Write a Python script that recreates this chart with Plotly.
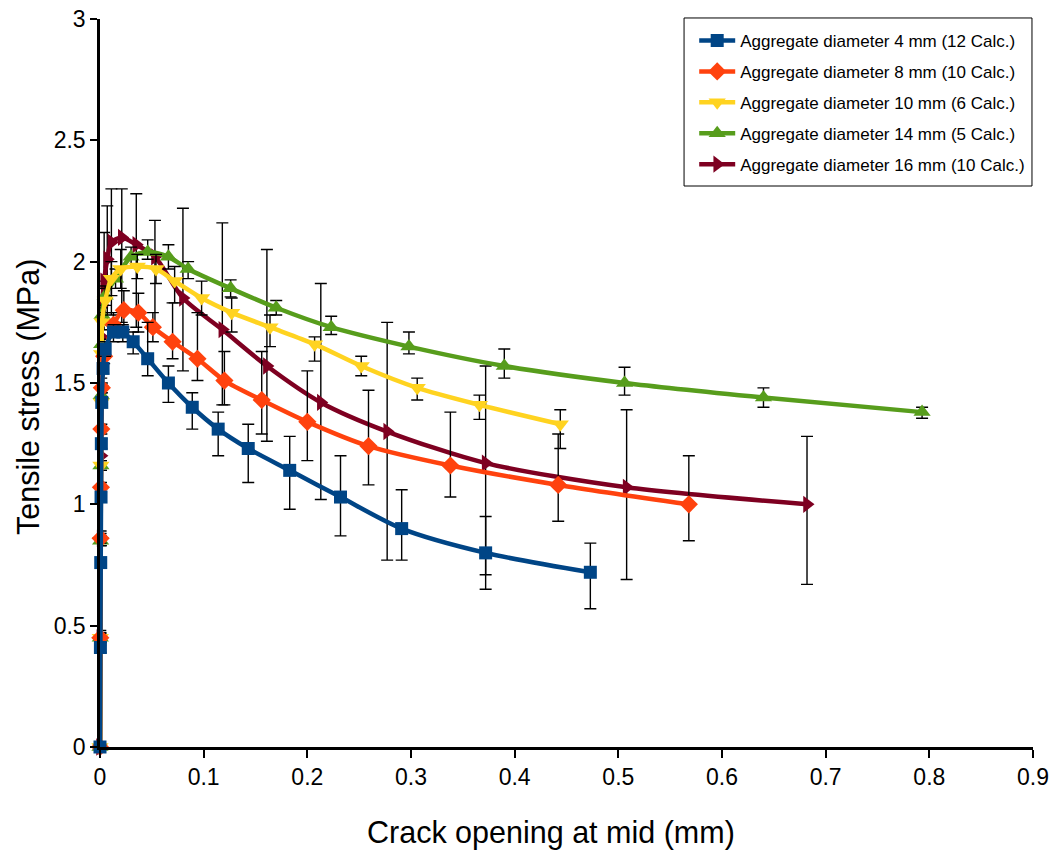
import plotly.graph_objects as go

# Crack opening at mid (mm) and tensile stress (MPa) per aggregate size
x_4mm = [0, 0.0004, 0.0007, 0.001, 0.0013, 0.0017, 0.003, 0.005, 0.013, 0.022, 0.032,
         0.046, 0.066, 0.089, 0.114, 0.143, 0.183, 0.232, 0.291, 0.372, 0.473]
y_4mm = [0, 0.41, 0.76, 1.03, 1.25, 1.42, 1.56, 1.64, 1.71, 1.71, 1.67,
         1.60, 1.50, 1.40, 1.31, 1.23, 1.14, 1.03, 0.90, 0.80, 0.72]
up_4mm = [0, 0.02, 0.02, 0.02, 0.02, 0.02, 0.02, 0.03, 0.03, 0.03, 0.04,
          0.15, 0.07, 0.06, 0.07, 0.10, 0.14, 0.17, 0.16, 0.15, 0.12]
dn_4mm = [0, 0.02, 0.02, 0.02, 0.02, 0.02, 0.02, 0.03, 0.04, 0.04, 0.05,
          0.07, 0.08, 0.09, 0.11, 0.14, 0.16, 0.16, 0.13, 0.15, 0.15]

x_8mm = [0, 0.0003, 0.0006, 0.0009, 0.0013, 0.0018, 0.004, 0.013, 0.023, 0.037,
         0.051, 0.070, 0.094, 0.120, 0.156, 0.200, 0.259, 0.338, 0.442, 0.568]
y_8mm = [0, 0.45, 0.86, 1.07, 1.31, 1.48, 1.61, 1.74, 1.80, 1.79,
         1.73, 1.67, 1.60, 1.51, 1.43, 1.34, 1.24, 1.16, 1.08, 1.00]
up_8mm = [0, 0.02, 0.02, 0.02, 0.02, 0.02, 0.03, 0.05, 0.08, 0.08,
          0.06, 0.16, 0.19, 0.12, 0.20, 0.21, 0.23, 0.22, 0.21, 0.20]
dn_8mm = [0, 0.02, 0.02, 0.02, 0.02, 0.02, 0.03, 0.05, 0.08, 0.08,
          0.06, 0.07, 0.09, 0.10, 0.14, 0.16, 0.16, 0.13, 0.15, 0.15]

x_10mm = [0, 0.0003, 0.0006, 0.0009, 0.0012, 0.0016, 0.002, 0.005, 0.011, 0.020,
          0.036, 0.054, 0.072, 0.098, 0.127, 0.164, 0.207, 0.252, 0.306, 0.366, 0.444]
y_10mm = [0, 0.45, 0.85, 1.16, 1.42, 1.62, 1.75, 1.84, 1.93, 1.97,
          1.98, 1.97, 1.92, 1.85, 1.79, 1.73, 1.66, 1.57, 1.48, 1.41, 1.33]
up_10mm = [0, 0.02, 0.02, 0.02, 0.02, 0.02, 0.03, 0.05, 0.07, 0.08,
           0.05, 0.06, 0.06, 0.07, 0.06, 0.05, 0.03, 0.04, 0.04, 0.04, 0.06]
dn_10mm = [0, 0.02, 0.02, 0.02, 0.02, 0.02, 0.03, 0.05, 0.07, 0.08,
           0.05, 0.06, 0.09, 0.07, 0.08, 0.08, 0.07, 0.04, 0.05, 0.06, 0.10]

x_14mm = [0, 0.0003, 0.0006, 0.0009, 0.0012, 0.0016, 0.002, 0.005, 0.015, 0.030,
          0.046, 0.066, 0.085, 0.126, 0.170, 0.223, 0.298, 0.390, 0.506, 0.640, 0.793]
y_14mm = [0, 0.45, 0.85, 1.16, 1.45, 1.66, 1.78, 1.86, 1.93, 2.02,
          2.04, 2.02, 1.97, 1.89, 1.81, 1.73, 1.65, 1.57, 1.50, 1.44, 1.38]
up_14mm = [0, 0.02, 0.02, 0.02, 0.02, 0.02, 0.03, 0.04, 0.04, 0.04,
           0.05, 0.05, 0.03, 0.035, 0.03, 0.045, 0.06, 0.07, 0.065, 0.04, 0.02]
dn_14mm = [0, 0.02, 0.02, 0.02, 0.02, 0.02, 0.03, 0.04, 0.04, 0.04,
           0.03, 0.05, 0.04, 0.035, 0.03, 0.03, 0.03, 0.05, 0.05, 0.04, 0.025]

x_16mm = [0, 0.0003, 0.0006, 0.0009, 0.0012, 0.0016, 0.002, 0.004, 0.007, 0.011,
          0.021, 0.035, 0.053, 0.080, 0.118, 0.161, 0.213, 0.277, 0.372, 0.508, 0.682]
y_16mm = [0, 0.45, 0.86, 1.20, 1.49, 1.69, 1.82, 1.92, 2.01, 2.08,
          2.10, 2.07, 2.02, 1.85, 1.72, 1.57, 1.42, 1.30, 1.17, 1.07, 1.00]
up_16mm = [0, 0.03, 0.03, 0.03, 0.03, 0.05, 0.10, 0.20, 0.22, 0.22,
           0.20, 0.21, 0.15, 0.37, 0.44, 0.48, 0.49, 0.45, 0.40, 0.32, 0.28]
dn_16mm = [0, 0.03, 0.03, 0.03, 0.03, 0.05, 0.10, 0.20, 0.25, 0.30,
           0.35, 0.34, 0.29, 0.30, 0.31, 0.31, 0.40, 0.53, 0.46, 0.38, 0.33]

series = [
    ("Aggregate diameter 4 mm (12 Calc.)", x_4mm, y_4mm, up_4mm, dn_4mm, "#004586", "square", 13),
    ("Aggregate diameter 8 mm (10 Calc.)", x_8mm, y_8mm, up_8mm, dn_8mm, "#ff420e", "diamond", 14),
    ("Aggregate diameter 10 mm (6 Calc.)", x_10mm, y_10mm, up_10mm, dn_10mm, "#ffd320", "triangle-down", 15),
    ("Aggregate diameter 14 mm (5 Calc.)", x_14mm, y_14mm, up_14mm, dn_14mm, "#579d1c", "triangle-up", 15),
    ("Aggregate diameter 16 mm (10 Calc.)", x_16mm, y_16mm, up_16mm, dn_16mm, "#7e0021", "triangle-right", 15),
]

FONT = "Liberation Sans, Arial, sans-serif"

fig = go.Figure()
# draw the larger aggregates first so the 4 mm curve sits on top
for rank, (name, xs, ys, up, dn, color, symbol, size) in reversed(list(enumerate(series))):
    fig.add_trace(go.Scatter(
        x=xs, y=ys, name=name, mode="lines+markers",
        line=dict(color=color, width=4.5, shape="spline", smoothing=0.8),
        marker=dict(symbol=symbol, size=size, color=color),
        error_y=dict(type="data", symmetric=False, array=up, arrayminus=dn,
                     color="black", thickness=1.4, width=6),
        cliponaxis=False,
        legendrank=rank + 1,
        legendgroup=name,
    ))

# axis titles placed as annotations
fig.add_annotation(text="Crack opening at mid (mm)", xref="paper", yref="paper",
                   x=0.483, y=-0.118, xanchor="center", yanchor="middle",
                   showarrow=False, font=dict(size=30.5, family=FONT, color="black"))
fig.add_annotation(text="Tensile stress (MPa)", xref="paper", yref="paper",
                   x=-0.076, y=0.481, xanchor="center", yanchor="middle", textangle=-90,
                   showarrow=False, font=dict(size=30.5, family=FONT, color="black"))

# framed legend box
fig.add_shape(type="rect", xref="paper", yref="paper",
              x0=0.626, x1=0.9989, y0=0.7706, y1=1.0014,
              line=dict(color="black", width=1), fillcolor="white", layer="above")

fig.update_layout(
    width=1051, height=852,
    margin=dict(l=100, r=18, t=19, b=105),
    paper_bgcolor="white", plot_bgcolor="white",
    font=dict(family=FONT, color="black"),
    showlegend=True,
    legend=dict(
        x=0.997, y=0.9945, xanchor="right", yanchor="top",
        bgcolor="rgba(0,0,0,0)", borderwidth=0,
        font=dict(size=17, family=FONT, color="black"),
        tracegroupgap=5.8, itemwidth=36,
    ),
    xaxis=dict(
        range=[0, 0.9], dtick=0.1, tick0=0,
        showline=True, linecolor="black", linewidth=2.5,
        ticks="outside", ticklen=8, tickwidth=2, tickcolor="black",
        showgrid=False, zeroline=False,
        tickfont=dict(size=23, family=FONT),
        automargin=False,
    ),
    yaxis=dict(
        range=[0, 3], dtick=0.5, tick0=0,
        showline=True, linecolor="black", linewidth=2.5,
        ticks="outside", ticklen=7, tickwidth=2, tickcolor="black",
        showgrid=False, zeroline=False,
        tickfont=dict(size=23, family=FONT),
        automargin=False,
    ),
)

fig.write_html("out.html")
